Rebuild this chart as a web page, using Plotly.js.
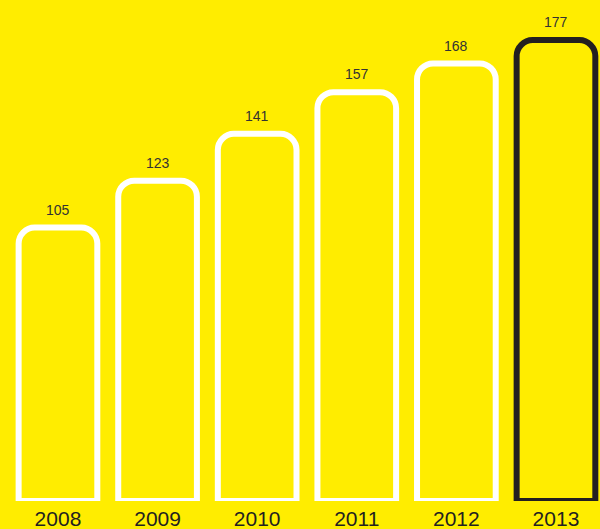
<!DOCTYPE html>
<html>
<head>
<meta charset="utf-8">
<script src="https://cdn.plot.ly/plotly-3.0.1.min.js"></script>
<style>html,body{margin:0;padding:0;background:#FFED00;}#chart{width:600px;height:529px;}</style>
</head>
<body>
<div id="chart"></div>
<script>
const years = ["2008", "2009", "2010", "2011", "2012", "2013"];
const values = [105, 123, 141, 157, 168, 177];
const outlineColors = ["#FFFFFF", "#FFFFFF", "#FFFFFF", "#FFFFFF", "#FFFFFF", "#231F20"];

const trace = {
  type: "bar",
  x: years,
  y: values,
  width: 0.79,
  marker: {
    color: "rgba(0,0,0,0)",
    line: { color: outlineColors, width: 6 },
    cornerradius: 16
  },
  cliponaxis: false,
  hoverinfo: "none"
};

const annotations = years.map((yr, i) => ({
  x: i, y: values[i], xref: "x", yref: "y",
  text: String(values[i]), showarrow: false,
  yanchor: "bottom", yshift: 8,
  font: { family: "Liberation Sans, Arial, sans-serif", size: 14, color: "#333333" }
}));

const layout = {
  width: 600, height: 529,
  paper_bgcolor: "#FFED00", plot_bgcolor: "#FFED00",
  margin: { l: 0, r: 0, t: 0, b: 28, pad: 0 },
  showlegend: false,
  xaxis: {
    type: "category", range: [-0.582, 5.442],
    showgrid: false, zeroline: false, showline: false, ticks: "",
    ticklabelstandoff: 3,
    tickfont: { family: "Liberation Sans, Arial, sans-serif", size: 21, color: "#231F20" },
    fixedrange: true
  },
  yaxis: {
    range: [0, 192.4], visible: false, showgrid: false, zeroline: false, fixedrange: true
  },
  annotations: annotations
};

Plotly.newPlot("chart", [trace], layout, { displayModeBar: false, staticPlot: true });
</script>
</body>
</html>
